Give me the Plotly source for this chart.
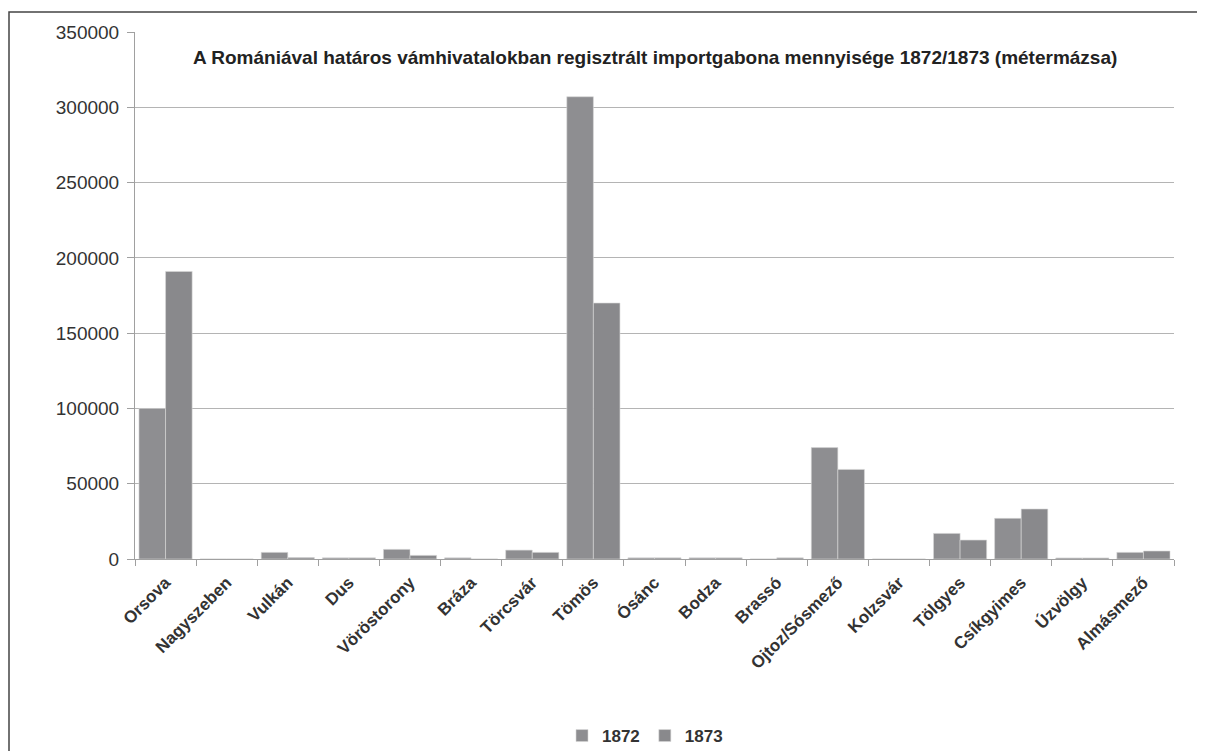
import plotly.graph_objects as go

categories = ["Orsova", "Nagyszeben", "Vulkán", "Dus", "Vöröstorony", "Bráza", "Törcsvár",
              "Tömös", "Ósánc", "Bodza", "Brassó", "Ojtoz/Sósmező", "Kolzsvár", "Tölgyes",
              "Csíkgyimes", "Úzvölgy", "Almásmező"]
values_1872 = [100000, 0, 4400, 800, 6400, 800, 5900, 307000, 800, 800, 0, 74000, 0, 17000, 27000, 700, 4400]
values_1873 = [191000, 0, 1000, 800, 2400, 0, 4400, 170000, 800, 800, 800, 59500, 0, 12600, 33200, 700, 5300]
y_ticks = [0, 50000, 100000, 150000, 200000, 250000, 300000, 350000]

title_text = "A Romániával határos vámhivatalokban regisztrált importgabona mennyisége 1872/1873 (métermázsa)"

FONT = "Liberation Sans, Arial, sans-serif"

fig = go.Figure()
fig.add_trace(go.Bar(name="<b>1872</b>", x=categories, y=values_1872,
                     marker=dict(color="#8e8e91", line=dict(color="#d8d8d8", width=0.6))))
fig.add_trace(go.Bar(name="<b>1873</b>", x=categories, y=values_1873,
                     marker=dict(color="#89898c", line=dict(color="#d8d8d8", width=0.6))))

OFF = 8  # page body margin
W, H = 1205 - OFF, 751 - OFF
L, R, T, B = 135 - OFF, 31, 32 - OFF, 192
pw, ph = W - L - R, H - T - B

def px_x(px):
    return (px - OFF - L) / pw

def px_y(py):
    return (H - B - (py - OFF)) / ph

fig.update_layout(
    width=W, height=H,
    margin=dict(l=L, r=R, t=T, b=B, pad=0, autoexpand=False),
    paper_bgcolor="white", plot_bgcolor="white",
    barmode="group", bargap=0.13, bargroupgap=0,
    font=dict(family=FONT, color="#333333"),
    showlegend=True,
    legend=dict(orientation="h", x=px_x(645), xanchor="center",
                y=px_y(736), yanchor="middle",
                font=dict(size=17, color="#333333", family=FONT),
                itemwidth=30, traceorder="normal", tracegroupgap=0),
    xaxis=dict(type="category", tickson="boundaries", ticks="outside", ticklen=6,
               tickcolor="#a0a0a0", showline=True, linecolor="#a0a0a0", linewidth=1,
               tickangle=-45, ticklabelstandoff=6, automargin=False,
               tickfont=dict(size=17, color="#333333", family=FONT),
               ticktext=["<b>" + c + "</b>" for c in categories], tickvals=categories,
               showgrid=False, range=[-0.5, len(categories) - 0.5]),
    yaxis=dict(range=[0, 350000], tickvals=y_ticks, ticktext=[str(v) for v in y_ticks],
               showgrid=True, gridcolor="#b4b4b4", gridwidth=1, automargin=False,
               showline=True, linecolor="#a0a0a0", linewidth=1,
               ticks="outside", ticklen=7, tickcolor="#a0a0a0", ticklabelstandoff=4,
               tickfont=dict(size=19, color="#333333", family=FONT),
               zeroline=False),
    annotations=[dict(text="<b>" + title_text + "</b>", xref="paper", yref="paper",
                      x=px_x(655), y=px_y(58), xanchor="center", yanchor="middle",
                      showarrow=False,
                      font=dict(size=19, color="#222222", family=FONT))],
    shapes=[dict(type="rect", xref="paper", yref="paper",
                 x0=px_x(9), x1=px_x(1240),
                 y0=px_y(800), y1=px_y(12),
                 line=dict(color="#444444", width=1.5), fillcolor="rgba(0,0,0,0)", layer="below")],
)

fig.write_html("out.html")
